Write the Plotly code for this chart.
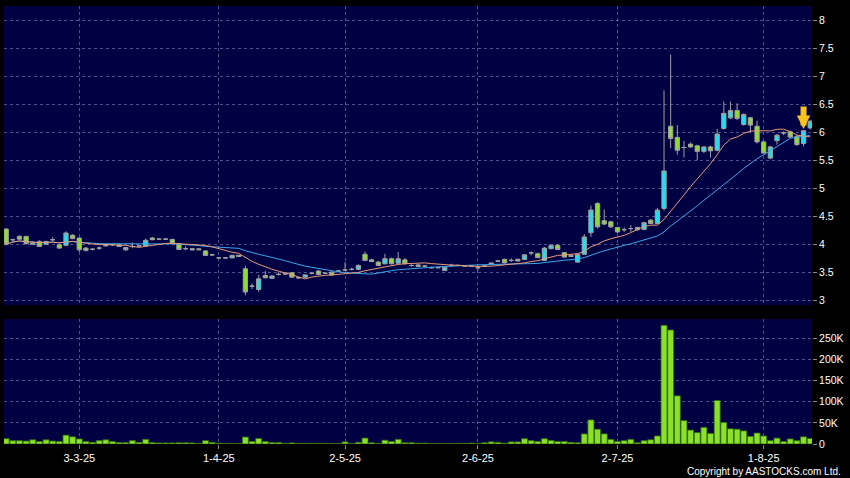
import plotly.graph_objects as go
import pandas as pd

# ---- data (daily candles, index = trading day) ----
opens = [4.27, 4.08, 4.14, 4.14, 4.00, 4.05, 4.00, 4.08, 3.99, 3.98,
         4.16, 4.11, 3.93, 3.91, 3.93, 3.97, 3.99, 3.99, 3.90, 3.96,
         3.97, 3.97, 4.11, 4.09, 4.09, 4.085, 4.01, 3.92, 3.92, 3.90,
         3.88, 3.81, 3.755, 3.755, 3.755, 3.78, 3.56, 3.25, 3.19, 3.44,
         3.39, 3.46, 3.47, 3.49, 3.40, 3.41, 3.48, 3.52, 3.48, 3.50,
         3.52, 3.54, 3.55, 3.55, 3.82, 3.72, 3.68, 3.65, 3.74, 3.66,
         3.72, 3.62, 3.60, 3.61, 3.58, 3.58, 3.53, 3.62, 3.62, 3.61,
         3.61, 3.58, 3.61, 3.635, 3.70, 3.73, 3.71, 3.73, 3.725, 3.845,
         3.83, 3.71, 3.92, 3.98, 3.85, 3.80, 3.68, 3.82, 4.205, 4.73,
         4.42, 4.40, 4.30, 4.26, 4.28, 4.26, 4.265, 4.43, 4.37, 4.64,
         6.11, 5.91, 5.73, 5.79, 5.76, 5.66, 5.74, 5.68, 6.07, 6.26,
         6.39, 6.14, 6.26, 6.11, 5.83, 5.54, 5.85, 5.99, 6.01, 5.93,
         5.80, 6.08]
highs = [4.29, 4.10, 4.16, 4.15, 4.05, 4.07, 4.06, 4.13, 4.00, 4.23,
         4.18, 4.12, 3.95, 3.93, 3.96, 4.00, 4.01, 4.00, 3.95, 4.03,
         3.99, 4.10, 4.13, 4.11, 4.11, 4.10, 4.02, 3.96, 3.93, 3.92,
         3.89, 3.83, 3.77, 3.77, 3.81, 3.81, 3.61, 3.30, 3.45, 3.52,
         3.45, 3.50, 3.50, 3.50, 3.42, 3.46, 3.50, 3.54, 3.50, 3.52,
         3.54, 3.68, 3.58, 3.64, 3.87, 3.74, 3.70, 3.83, 3.76, 3.86,
         3.75, 3.64, 3.64, 3.62, 3.60, 3.59, 3.60, 3.65, 3.63, 3.62,
         3.62, 3.63, 3.62, 3.67, 3.71, 3.74, 3.75, 3.74, 3.82, 3.87,
         3.85, 3.95, 3.99, 4.00, 3.86, 3.81, 3.83, 4.18, 4.69, 4.75,
         4.62, 4.42, 4.31, 4.30, 4.34, 4.31, 4.40, 4.45, 4.65, 6.75,
         7.39, 6.13, 5.85, 5.82, 5.78, 5.75, 5.76, 6.06, 6.55, 6.55,
         6.52, 6.34, 6.28, 6.21, 5.85, 5.76, 5.97, 6.02, 6.03, 5.95,
         6.03, 6.22]
lows = [3.98, 4.05, 4.07, 4.00, 3.99, 3.95, 3.99, 4.05, 3.92, 3.97,
        4.09, 3.86, 3.87, 3.89, 3.90, 3.96, 3.97, 3.95, 3.88, 3.93,
        3.95, 3.96, 4.07, 4.08, 4.08, 4.00, 3.90, 3.89, 3.89, 3.89,
        3.79, 3.79, 3.74, 3.74, 3.75, 3.77, 3.085, 3.20, 3.15, 3.39,
        3.38, 3.44, 3.45, 3.40, 3.38, 3.40, 3.46, 3.45, 3.47, 3.44,
        3.50, 3.52, 3.53, 3.54, 3.70, 3.68, 3.61, 3.64, 3.64, 3.65,
        3.64, 3.60, 3.59, 3.59, 3.57, 3.57, 3.52, 3.60, 3.61, 3.60,
        3.60, 3.53, 3.60, 3.63, 3.68, 3.66, 3.68, 3.69, 3.72, 3.80,
        3.75, 3.70, 3.91, 3.90, 3.76, 3.77, 3.67, 3.81, 4.13, 4.28,
        4.34, 4.29, 4.20, 4.22, 4.22, 4.24, 4.25, 4.36, 4.36, 4.60,
        5.72, 5.60, 5.55, 5.72, 5.50, 5.63, 5.55, 5.66, 6.05, 6.24,
        6.22, 6.12, 6.00, 5.80, 5.62, 5.52, 5.78, 5.95, 5.90, 5.76,
        5.75, 6.05]
closes = [4.00, 4.08, 4.09, 4.01, 4.02, 3.96, 4.05, 4.08, 3.93, 4.20,
          4.10, 3.90, 3.89, 3.91, 3.93, 3.99, 3.99, 3.96, 3.94, 3.96,
          3.97, 4.07, 4.08, 4.09, 4.09, 4.01, 3.905, 3.92, 3.90, 3.915,
          3.80, 3.81, 3.755, 3.755, 3.80, 3.80, 3.145, 3.25, 3.38, 3.40,
          3.43, 3.46, 3.47, 3.41, 3.40, 3.45, 3.48, 3.46, 3.48, 3.45,
          3.52, 3.54, 3.55, 3.62, 3.71, 3.69, 3.62, 3.74, 3.65, 3.74,
          3.65, 3.62, 3.63, 3.61, 3.58, 3.58, 3.59, 3.62, 3.62, 3.61,
          3.61, 3.58, 3.61, 3.665, 3.70, 3.665, 3.71, 3.70, 3.81, 3.845,
          3.76, 3.93, 3.98, 3.905, 3.77, 3.78, 3.82, 4.13, 4.61, 4.31,
          4.36, 4.31, 4.22, 4.26, 4.28, 4.30, 4.385, 4.37, 4.61, 5.31,
          5.89, 5.68, 5.73, 5.74, 5.66, 5.74, 5.67, 5.97, 6.34, 6.39,
          6.25, 6.32, 6.13, 5.83, 5.63, 5.74, 5.95, 5.99, 5.915, 5.78,
          6.03, 6.20]
volumes_k = [12.6, 7.9, 7.9, 7, 10, 6, 10, 7, 6, 21,
             17, 12, 6, 4, 8, 10, 6, 3.5, 3.5, 8,
             4, 11, 3.5, 2.5, 2.5, 2.5, 3, 3, 2.5, 1.5,
             8, 4, 2, 1, 1, 1, 16.5, 6, 13, 6,
             3.5, 3.5, 1.5, 2.5, 1.5, 1.5, 1.5, 1.5, 1.5, 1,
             1, 5, 1, 4, 14, 3, 1.5, 9, 6, 11,
             3, 3, 2, 2, 1, 1, 1, 1, 1.5, 1.5,
             2, 1.5, 3, 5, 4, 2, 5, 5, 12.6, 8,
             6, 12.6, 8.5, 6, 6, 4, 3, 23.8, 57, 35,
             24, 11, 6, 8, 11, 3, 8, 10, 19, 281,
             270, 114, 55.5, 33, 27, 39.5, 25, 103, 50.7, 36,
             35, 31, 18, 26, 19, 8, 14, 6, 12, 8,
             17, 13]

tick_idx = [11, 32, 51, 71, 92, 114]
tick_text = ["3-3-25", "1-4-25", "2-5-25", "2-6-25", "2-7-25", "1-8-25"]
price_ticks = [3, 3.5, 4, 4.5, 5, 5.5, 6, 6.5, 7, 7.5, 8]
price_tick_text = ["3", "3.5", "4", "4.5", "5", "5.5", "6", "6.5", "7", "7.5", "8"]
vol_ticks = [0, 50000, 100000, 150000, 200000, 250000]
vol_tick_text = ["0", "50K", "100K", "150K", "200K", "250K"]
signal_idx = 120

n = len(closes)
assert all(len(a) == n for a in (opens, highs, lows, volumes_k))
idx = list(range(n))
volumes = [v * 1000 for v in volumes_k]
ma10 = pd.Series(closes).rolling(10, min_periods=1).mean()
ma20 = pd.Series(closes).rolling(20, min_periods=1).mean()

NAVY = "#000042"
UP = "#22DDF0"
DOWN = "#8CE02A"
WICK = "#A0A0A0"
GRID = "rgba(135,135,185,0.6)"
FONT = "Liberation Sans, Arial, sans-serif"

fig = go.Figure()
fig.add_trace(go.Scatter(x=idx, y=ma20, mode="lines", line=dict(color="#3FA6EA", width=1),
                         hoverinfo="skip", showlegend=False))
fig.add_trace(go.Scatter(x=idx, y=ma10, mode="lines", line=dict(color="#E89A78", width=1),
                         hoverinfo="skip", showlegend=False))
fig.add_trace(go.Candlestick(
    x=idx, open=opens, high=highs, low=lows, close=closes,
    increasing=dict(fillcolor=UP, line=dict(color=WICK, width=1)),
    decreasing=dict(fillcolor=DOWN, line=dict(color=WICK, width=1)),
    whiskerwidth=0, showlegend=False))
fig.add_trace(go.Bar(x=idx, y=volumes, xaxis="x2", yaxis="y2",
                     marker=dict(color=DOWN, line=dict(color="#2E6E0E", width=0.8)),
                     showlegend=False))

xr = [-0.33, 121.27]
common_x = dict(range=xr, tickvals=tick_idx, showgrid=True, gridcolor=GRID, griddash="3px,3px",
                gridwidth=1, zeroline=False, showline=False, automargin=False)
fig.update_layout(
    width=850, height=478,
    paper_bgcolor="black", plot_bgcolor=NAVY,
    margin=dict(l=4, r=38, t=6, b=34, autoexpand=False),
    showlegend=False, boxgap=0.08, bargap=0.1,
    font=dict(family=FONT, color="white"),
    xaxis=dict(common_x, anchor="y", showticklabels=False, ticks="",
               rangeslider=dict(visible=False)),
    xaxis2=dict(common_x, anchor="y2", matches="x", ticktext=tick_text, ticks="outside",
                ticklen=4, tickcolor="#8a8a8a", tickfont=dict(size=11, color="white", family=FONT)),
    yaxis=dict(domain=[0.317, 1], range=[2.91, 8.26], side="right", tickvals=price_ticks,
               ticktext=price_tick_text, ticks="outside", ticklen=4, tickcolor="#8a8a8a",
               showgrid=True, gridcolor=GRID, griddash="3px,3px", zeroline=False, automargin=False,
               tickfont=dict(size=10.5, color="white", family=FONT)),
    yaxis2=dict(domain=[0, 0.2854], range=[0, 296000], side="right", tickvals=vol_ticks,
                ticktext=vol_tick_text, ticks="outside", ticklen=4, tickcolor="#8a8a8a",
                showgrid=True, gridcolor=GRID, griddash="3px,3px", zeroline=False, automargin=False,
                tickfont=dict(size=10.5, color="white", family=FONT)),
)

fig.add_annotation(x=signal_idx, y=highs[signal_idx] + 0.03, xref="x", yref="y",
                   ax=0, ay=-24, showarrow=True, arrowhead=2, arrowsize=0.45,
                   arrowwidth=6, arrowcolor="#F8C41C", text="")
fig.add_annotation(x=1.0384, y=-0.063, xref="paper", yref="paper", xanchor="right",
                   yanchor="middle", showarrow=False, text="Copyright by AASTOCKS.com Ltd.",
                   font=dict(size=10, color="white", family=FONT))

fig.write_html("out.html", config={"displayModeBar": False},
               post_script="document.body.style.margin='0';document.body.style.background='black';")
